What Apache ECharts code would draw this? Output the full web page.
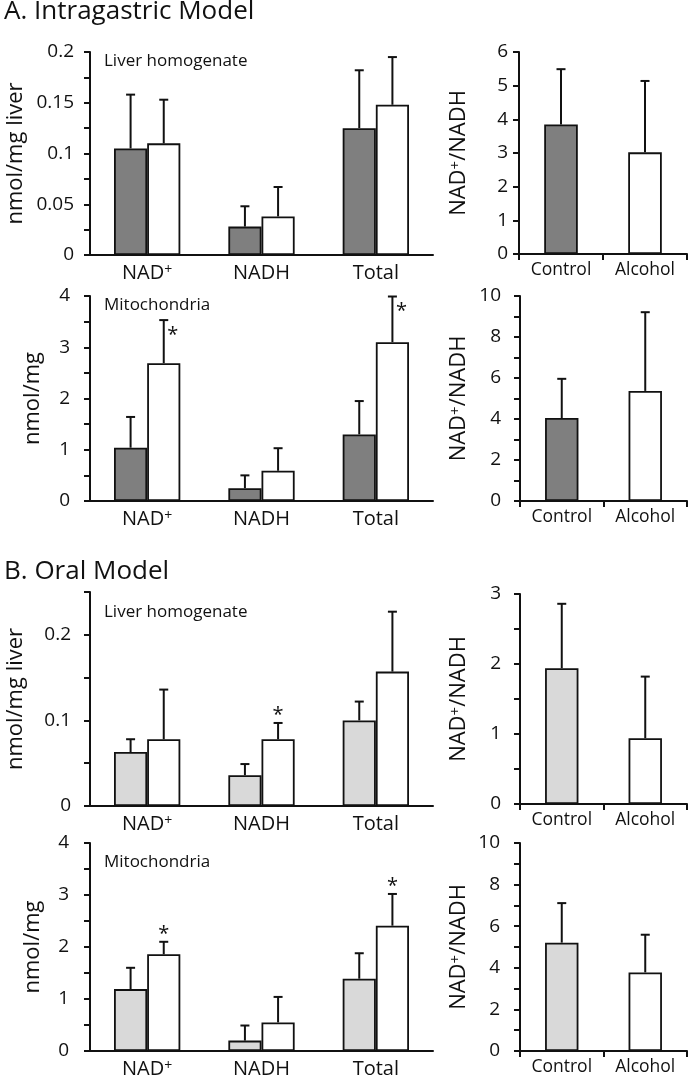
<!DOCTYPE html>
<html>
<head>
<meta charset="utf-8">
<script src="https://cdn.jsdelivr.net/npm/echarts@6/dist/echarts.min.js"></script>
<style>
html,body{margin:0;padding:0;background:#fff;}
#main{width:693px;height:1075px;}
</style>
</head>
<body>
<div id="main"></div>
<script>
var categories = ['NAD{sup|+}', 'NADH', 'Total'];
var groups = ['Control', 'Alcohol'];

// A. Intragastric - liver homogenate (nmol/mg liver)
var aLiverCtrl = [0.105, 0.028, 0.125];
var aLiverCtrlSd = [0.053, 0.020, 0.057];
var aLiverAlc = [0.110, 0.038, 0.148];
var aLiverAlcSd = [0.043, 0.029, 0.047];
// A. Intragastric - mitochondria (nmol/mg)
var aMitoCtrl = [1.04, 0.25, 1.30];
var aMitoCtrlSd = [0.60, 0.25, 0.65];
var aMitoAlc = [2.69, 0.59, 3.10];
var aMitoAlcSd = [0.84, 0.44, 0.89];
var aMitoSig = [1, 0, 1];
// A. ratios NAD+/NADH
var aLiverRatio = [3.85, 3.02];
var aLiverRatioSd = [1.64, 2.12];
var aMitoRatio = [4.05, 5.37];
var aMitoRatioSd = [1.91, 3.84];

// B. Oral - liver homogenate
var bLiverCtrl = [0.063, 0.036, 0.100];
var bLiverCtrlSd = [0.015, 0.013, 0.022];
var bLiverAlc = [0.078, 0.078, 0.157];
var bLiverAlcSd = [0.058, 0.019, 0.070];
var bLiverSig = [0, 1, 0];
// B. Oral - mitochondria
var bMitoCtrl = [1.19, 0.20, 1.39];
var bMitoCtrlSd = [0.41, 0.29, 0.49];
var bMitoAlc = [1.86, 0.55, 2.41];
var bMitoAlcSd = [0.24, 0.49, 0.61];
var bMitoSig = [1, 0, 1];
// B. ratios
var bLiverRatio = [1.94, 0.94];
var bLiverRatioSd = [0.92, 0.88];
var bMitoRatio = [5.21, 3.78];
var bMitoRatioSd = [1.90, 1.81];

var FONT = 'Open Sans';
var INK = '#111';
var darkGray = '#7f7f7f';
var lightGray = '#d9d9d9';
var ratioName = 'NAD{sup|+}/NADH';

// layout of the 8 panels
var panels = [
  {grid: {left: 90, top: 52, width: 343, height: 203}, max: 0.2, step: 0.025, labelStep: 0.05, name: 'nmol/mg liver', nameGap: 63, margin: 16,
   cats: categories, ctrl: aLiverCtrl, ctrlSd: aLiverCtrlSd, alc: aLiverAlc, alcSd: aLiverAlcSd, sig: null, fill: darkGray},
  {grid: {left: 90, top: 296, width: 343, height: 205}, max: 4, step: 0.5, labelStep: 1, name: 'nmol/mg', nameGap: 46, margin: 20,
   cats: categories, ctrl: aMitoCtrl, ctrlSd: aMitoCtrlSd, alc: aMitoAlc, alcSd: aMitoAlcSd, sig: aMitoSig, star: 'side', fill: darkGray},
  {grid: {left: 519, top: 52, width: 168, height: 202}, max: 6, step: 1, labelStep: 1, name: ratioName, nameGap: 49, margin: 11,
   cats: groups, ratio: aLiverRatio, ratioSd: aLiverRatioSd, fill: darkGray},
  {grid: {left: 520, top: 296, width: 167, height: 205}, max: 10, step: 1, labelStep: 2, name: ratioName, nameGap: 50, margin: 19,
   cats: groups, ratio: aMitoRatio, ratioSd: aMitoRatioSd, fill: darkGray},
  {grid: {left: 90, top: 592, width: 343, height: 214}, max: 0.25, step: 0.05, labelStep: 0.1, name: 'nmol/mg liver', nameGap: 63, margin: 19,
   cats: categories, ctrl: bLiverCtrl, ctrlSd: bLiverCtrlSd, alc: bLiverAlc, alcSd: bLiverAlcSd, sig: bLiverSig, star: 'top', fill: lightGray},
  {grid: {left: 90, top: 843, width: 343, height: 208}, max: 4, step: 0.5, labelStep: 1, name: 'nmol/mg', nameGap: 46, margin: 21,
   cats: categories, ctrl: bMitoCtrl, ctrlSd: bMitoCtrlSd, alc: bMitoAlc, alcSd: bMitoAlcSd, sig: bMitoSig, star: 'top', fill: lightGray},
  {grid: {left: 520, top: 594, width: 167, height: 210}, max: 3, step: 0.5, labelStep: 1, name: ratioName, nameGap: 50, margin: 19,
   cats: groups, ratio: bLiverRatio, ratioSd: bLiverRatioSd, fill: lightGray},
  {grid: {left: 520, top: 843, width: 167, height: 208}, max: 10, step: 1, labelStep: 2, name: ratioName, nameGap: 50, margin: 20,
   cats: groups, ratio: bMitoRatio, ratioSd: bMitoRatioSd, fill: lightGray}
];

function yLabel(labelStep) {
  return function (v) {
    var r = v / labelStep;
    if (Math.abs(r - Math.round(r)) > 1e-6) return '';
    return String(parseFloat(v.toFixed(3)));
  };
}

function supRich(size) {
  return {sup: {fontFamily: FONT, fontSize: size, color: INK, verticalAlign: 'top'}};
}

// error bar (upper only) + optional asterisk
function errorRender(offset, starMode) {
  return function (params, api) {
    var ci = api.value(0);
    var base = api.coord([ci, api.value(1)]);
    var top = api.coord([ci, api.value(1) + api.value(2)]);
    var band = api.size([1, 0])[0];
    var x = base[0] + offset * band;
    var kids = [
      {type: 'line', shape: {x1: x, y1: base[1], x2: x, y2: top[1]}, style: {stroke: INK, lineWidth: 2}},
      {type: 'line', shape: {x1: x - 4.5, y1: top[1], x2: x + 4.5, y2: top[1]}, style: {stroke: INK, lineWidth: 2}}
    ];
    if (api.value(3)) {
      var sx = starMode === 'side' ? x + 9 : x;
      var sy = starMode === 'side' ? top[1] + 15 : top[1] - 8;
      kids.push({type: 'text', style: {text: '*', x: sx, y: sy, fill: INK, font: '20px ' + FONT, align: 'center', verticalAlign: 'middle'}});
    }
    return {type: 'group', children: kids};
  };
}

function errData(vals, sd, sig) {
  return vals.map(function (v, i) { return [i, v, sd[i], sig ? sig[i] : 0]; });
}

var grids = [], xAxes = [], yAxes = [], series = [];
panels.forEach(function (p, k) {
  var g = p.grid;
  grids.push({left: g.left, top: g.top, width: g.width, height: g.height, outerBoundsMode: 'none'});
  var isRatio = !!p.ratio;
  xAxes.push({
    type: 'category', gridIndex: k, data: p.cats,
    axisLine: {show: true, lineStyle: {color: INK, width: 2}},
    axisTick: {show: isRatio, length: 6, lineStyle: {color: INK, width: 2}},
    axisLabel: {color: INK, fontFamily: FONT, fontSize: isRatio ? 17.5 : 20, margin: isRatio ? 7 : 8, interval: 0, rich: supRich(14)}
  });
  yAxes.push({
    type: 'value', gridIndex: k, min: 0, max: p.max, interval: p.step,
    name: p.name, nameLocation: 'middle', nameGap: p.nameGap, nameRotate: 90,
    nameTextStyle: {color: INK, fontFamily: FONT, fontSize: 22, rich: supRich(15)},
    axisLine: {show: true, lineStyle: {color: INK, width: 2}},
    axisTick: {show: true, length: 6, lineStyle: {color: INK, width: 2}},
    splitLine: {show: false},
    axisLabel: {color: INK, fontFamily: FONT, fontSize: 19, margin: p.margin, formatter: yLabel(p.labelStep), showMinLabel: true, showMaxLabel: true}
  });
  if (isRatio) {
    series.push({
      type: 'bar', xAxisIndex: k, yAxisIndex: k, barWidth: '40%', z: 2,
      data: p.ratio.map(function (v, i) {
        return {value: v, itemStyle: {color: i === 0 ? p.fill : '#fff'}};
      }),
      itemStyle: {borderColor: INK, borderWidth: 1.8}
    });
    series.push({
      type: 'custom', xAxisIndex: k, yAxisIndex: k, z: 3,
      renderItem: errorRender(0, null),
      encode: {x: 0, y: 1},
      data: errData(p.ratio, p.ratioSd, null)
    });
  } else {
    series.push({
      type: 'bar', name: groups[0], xAxisIndex: k, yAxisIndex: k, barWidth: '29%', barGap: '0%', z: 2,
      data: p.ctrl, itemStyle: {color: p.fill, borderColor: INK, borderWidth: 1.8}
    });
    series.push({
      type: 'bar', name: groups[1], xAxisIndex: k, yAxisIndex: k, barWidth: '29%', barGap: '0%', z: 2,
      data: p.alc, itemStyle: {color: '#fff', borderColor: INK, borderWidth: 1.8}
    });
    series.push({
      type: 'custom', xAxisIndex: k, yAxisIndex: k, z: 3,
      renderItem: errorRender(-0.145, null),
      encode: {x: 0, y: 1},
      data: errData(p.ctrl, p.ctrlSd, null)
    });
    series.push({
      type: 'custom', xAxisIndex: k, yAxisIndex: k, z: 3,
      renderItem: errorRender(0.145, p.star),
      encode: {x: 0, y: 1},
      data: errData(p.alc, p.alcSd, p.sig)
    });
  }
});

var titleStyle = {color: INK, fontFamily: FONT, fontWeight: 'normal'};
var titles = [
  {text: 'A. Intragastric Model', left: 4, top: -1, padding: 0, textStyle: Object.assign({fontSize: 26}, titleStyle)},
  {text: 'B. Oral Model', left: 4, top: 559, padding: 0, textStyle: Object.assign({fontSize: 26}, titleStyle)},
  {text: 'Liver homogenate', left: 104, top: 53, padding: 0, textStyle: Object.assign({fontSize: 17}, titleStyle)},
  {text: 'Mitochondria', left: 104, top: 297, padding: 0, textStyle: Object.assign({fontSize: 17}, titleStyle)},
  {text: 'Liver homogenate', left: 104, top: 604, padding: 0, textStyle: Object.assign({fontSize: 17}, titleStyle)},
  {text: 'Mitochondria', left: 104, top: 854, padding: 0, textStyle: Object.assign({fontSize: 17}, titleStyle)}
];

var myChart = echarts.init(document.getElementById('main'));
myChart.setOption({
  animation: false,
  backgroundColor: '#fff',
  title: titles,
  grid: grids,
  xAxis: xAxes,
  yAxis: yAxes,
  series: series
});
</script>
</body>
</html>
